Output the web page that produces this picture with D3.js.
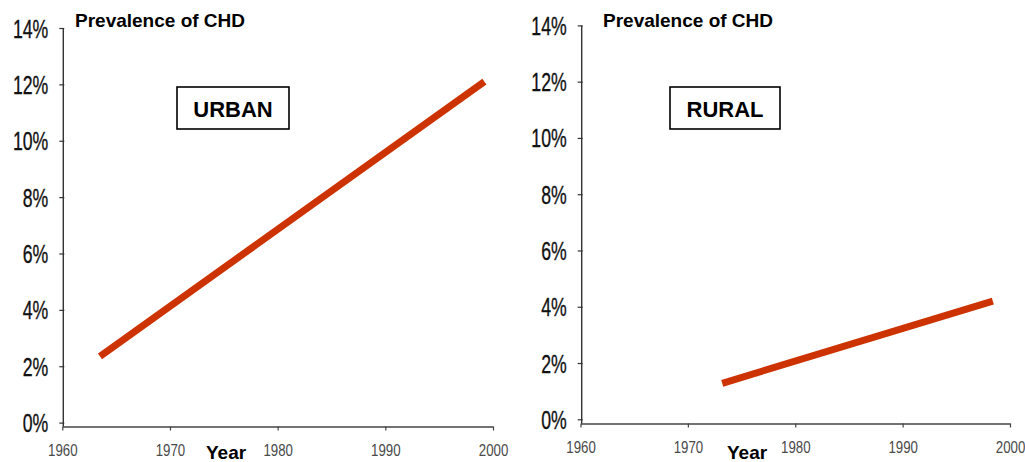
<!DOCTYPE html>
<html>
<head>
<meta charset="utf-8">
<script src="https://cdn.jsdelivr.net/npm/d3@7"></script>
<style>
  body { margin: 0; background: #fff; }
  svg { display: block; }
</style>
</head>
<body>
<svg id="chart" width="1025" height="462"></svg>
<script>
// Axis ticks
const yearTicks = [1960, 1970, 1980, 1990, 2000];
const pctTicks = [0, 2, 4, 6, 8, 10, 12, 14];

// Series: start and end of each trend line (year, prevalence %)
const urbanYears = [1963.5, 1999.2];
const urbanPrevalence = [2.35, 12.1];
const ruralYears = [1973.2, 1998.4];
const ruralPrevalence = [1.28, 4.2];

// Text
const panelLabels = ["URBAN", "RURAL"];
const titleText = "Prevalence of CHD";
const xTitle = "Year";

const FONT = "'Liberation Sans', Arial, Helvetica, sans-serif";
const LINE_COLOR = "#cc3300";

const panels = [
  { label: panelLabels[0], years: urbanYears, values: urbanPrevalence,
    x0: 62.3, x1: 493, axisX: 63.3, y0: 422.6, yTop: 28, axisY: 426.5,
    titleX: 75, box: { x: 177, y: 87, w: 112, h: 42 }, yearX: 206 },
  { label: panelLabels[1], years: ruralYears, values: ruralPrevalence,
    x0: 580.5, x1: 1010, axisX: 581.7, y0: 419.3, yTop: 25.4, axisY: 423.5,
    titleX: 603, box: { x: 670, y: 87, w: 110, h: 42 }, yearX: 727 }
];

const svg = d3.select("#chart");

panels.forEach(p => {
  const g = svg.append("g");
  const x = d3.scaleLinear().domain([1960, 2000]).range([p.x0, p.x1]);
  const y = d3.scaleLinear().domain([0, 14]).range([p.y0, p.yTop]);

  // x axis
  const gx = g.append("g")
    .attr("transform", `translate(0,${p.axisY})`)
    .call(d3.axisBottom(x).tickValues(yearTicks).tickFormat(d3.format("d"))
      .tickSize(4).tickSizeOuter(0));
  gx.select(".domain").attr("stroke", "#444").attr("stroke-width", 1.4);
  gx.selectAll(".tick line").attr("stroke", "#444").attr("stroke-width", 1.2);
  gx.selectAll(".tick text")
    .attr("y", 0).attr("dy", null)
    .attr("transform", "translate(0,29) scale(0.78,1)")
    .attr("font-family", FONT).attr("font-size", 17)
    .attr("fill", "#4a4a4a").attr("text-anchor", "middle");

  // y axis
  const gy = g.append("g")
    .attr("transform", `translate(${p.axisX},0)`)
    .call(d3.axisLeft(y).tickValues(pctTicks).tickFormat(d => d + "%")
      .tickSize(4).tickSizeOuter(0));
  gy.select(".domain").remove();
  gy.append("line")
    .attr("x1", 0).attr("x2", 0)
    .attr("y1", y(14)).attr("y2", p.axisY)
    .attr("stroke", "#333").attr("stroke-width", 1.4);
  gy.selectAll(".tick line").attr("x2", -4).attr("x1", 1)
    .attr("stroke", "#333").attr("stroke-width", 1.2);
  gy.selectAll(".tick text")
    .attr("x", 0).attr("dy", null)
    .attr("transform", "translate(-15,9) scale(0.68,1)")
    .attr("font-family", FONT).attr("font-size", 26)
    .attr("fill", "#111").attr("stroke", "#111").attr("stroke-width", 0.35)
    .attr("text-anchor", "end");

  // trend line
  const pts = p.years.map((yr, i) => [yr, p.values[i]]);
  g.append("path")
    .datum(pts)
    .attr("d", d3.line().x(d => x(d[0])).y(d => y(d[1])))
    .attr("fill", "none")
    .attr("stroke", LINE_COLOR)
    .attr("stroke-width", 7);

  // title
  g.append("text")
    .attr("x", p.titleX).attr("y", 27)
    .attr("font-family", FONT).attr("font-weight", "bold").attr("font-size", 19)
    .attr("fill", "#000")
    .text(titleText);

  // panel label box
  g.append("rect")
    .attr("x", p.box.x).attr("y", p.box.y)
    .attr("width", p.box.w).attr("height", p.box.h)
    .attr("fill", "#fff").attr("stroke", "#000").attr("stroke-width", 1.6);
  g.append("text")
    .attr("x", p.box.x + p.box.w / 2).attr("y", p.box.y + 30)
    .attr("text-anchor", "middle")
    .attr("font-family", FONT).attr("font-weight", "bold").attr("font-size", 22)
    .attr("fill", "#000")
    .text(p.label);

  // x axis title
  g.append("text")
    .attr("x", p.yearX).attr("y", 459)
    .attr("font-family", FONT).attr("font-weight", "bold").attr("font-size", 19)
    .attr("fill", "#000")
    .text(xTitle);
});
</script>
</body>
</html>
